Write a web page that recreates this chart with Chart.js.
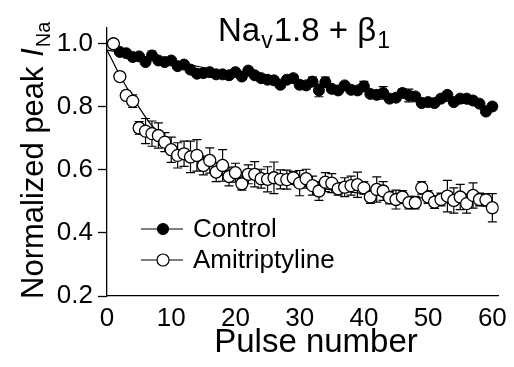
<!DOCTYPE html>
<html>
<head>
<meta charset="utf-8">
<script src="https://cdn.jsdelivr.net/npm/chart.js@4.4.0/dist/chart.umd.min.js"></script>
<style>
  html, body { margin: 0; padding: 0; background: #fff; }
  #wrap { width: 514px; height: 367px; }
</style>
</head>
<body>
<div id="wrap"><canvas id="pulseChart" width="514" height="367"></canvas></div>
<script>
// Pulse number (x) for both series
const pulses = [1, 2, 3, 4, 5, 6, 7, 8, 9, 10,
    11, 12, 13, 14, 15, 16, 17, 18, 19, 20,
    21, 22, 23, 24, 25, 26, 27, 28, 29, 30,
    31, 32, 33, 34, 35, 36, 37, 38, 39, 40,
    41, 42, 43, 44, 45, 46, 47, 48, 49, 50,
    51, 52, 53, 54, 55, 56, 57, 58, 59, 60];

// Control: normalized peak I_Na and SEM
const controlValues = [1.0, 0.974, 0.970, 0.958, 0.960, 0.942, 0.963, 0.947, 0.942, 0.947,
    0.929, 0.934, 0.918, 0.905, 0.907, 0.910, 0.903, 0.903, 0.900, 0.910,
    0.896, 0.915, 0.900, 0.891, 0.886, 0.884, 0.870, 0.886, 0.891, 0.870,
    0.868, 0.880, 0.852, 0.878, 0.857, 0.852, 0.868, 0.854, 0.852, 0.865,
    0.841, 0.838, 0.844, 0.826, 0.829, 0.844, 0.836, 0.833, 0.812, 0.815,
    0.812, 0.826, 0.838, 0.815, 0.826, 0.826, 0.820, 0.810, 0.785, 0.801];
const controlErrors = [0, 0.005, 0.005, 0.006, 0.006, 0.008, 0.014, 0.008, 0.008, 0.008,
    0.008, 0.008, 0.008, 0.008, 0.008, 0.008, 0.008, 0.008, 0.008, 0.008,
    0.01, 0.01, 0.01, 0.01, 0.01, 0.01, 0.01, 0.01, 0.01, 0.01,
    0.012, 0.014, 0.02, 0.016, 0.01, 0.01, 0.01, 0.01, 0.012, 0.016,
    0.01, 0.01, 0.02, 0.012, 0.01, 0.012, 0.02, 0.01, 0.01, 0.01,
    0.01, 0.01, 0.01, 0.01, 0.01, 0.01, 0.01, 0.01, 0.01, 0.01];

// Amitriptyline: normalized peak I_Na and SEM
const amiValues = [1.0, 0.896, 0.836, 0.818, 0.733, 0.723, 0.715, 0.709, 0.688, 0.664,
    0.646, 0.651, 0.641, 0.646, 0.614, 0.630, 0.593, 0.614, 0.579, 0.591,
    0.556, 0.586, 0.586, 0.572, 0.570, 0.575, 0.570, 0.569, 0.575, 0.558,
    0.572, 0.550, 0.533, 0.561, 0.558, 0.540, 0.545, 0.550, 0.553, 0.543,
    0.514, 0.538, 0.533, 0.512, 0.506, 0.514, 0.496, 0.496, 0.543, 0.514,
    0.498, 0.506, 0.517, 0.503, 0.514, 0.493, 0.519, 0.506, 0.505, 0.480];
const amiErrors = [0, 0.01, 0.01, 0.02, 0.02, 0.04, 0.04, 0.04, 0.03, 0.04,
    0.04, 0.04, 0.05, 0.05, 0.03, 0.04, 0.03, 0.05, 0.03, 0.03,
    0.02, 0.03, 0.04, 0.03, 0.04, 0.05, 0.03, 0.03, 0.02, 0.04,
    0.03, 0.03, 0.03, 0.03, 0.03, 0.02, 0.03, 0.03, 0.04, 0.02,
    0.02, 0.04, 0.03, 0.02, 0.03, 0.02, 0.02, 0.02, 0.02, 0.02,
    0.02, 0.02, 0.05, 0.04, 0.04, 0.03, 0.04, 0.02, 0.02, 0.045];

// Fitted decay curves
const controlFitX = [0, 2, 10, 20, 30, 40, 50, 60];
const controlFitY = [0.98, 0.972, 0.945, 0.905, 0.875, 0.85, 0.825, 0.80];
const amiFitX = [0, 2, 4, 7, 10, 15, 20, 30, 40, 50, 60];
const amiFitY = [0.98, 0.90, 0.83, 0.74, 0.68, 0.62, 0.585, 0.55, 0.525, 0.51, 0.50];

// Axis ticks
const xTicks = [0, 10, 20, 30, 40, 50, 60];
const yTicks = [0.2, 0.4, 0.6, 0.8, 1.0];

const FONT = '"Liberation Sans", Arial, sans-serif';

function toPoints(xs, ys) {
    return xs.map((x, i) => ({ x: x, y: ys[i] }));
}

// Vertical error bars drawn behind the markers
const errorBars = {
    id: 'errorBars',
    beforeDatasetsDraw(chart) {
        const ctx = chart.ctx;
        const xs = chart.scales.x, ys = chart.scales.y;
        const sets = [[controlValues, controlErrors], [amiValues, amiErrors]];
        ctx.save();
        ctx.strokeStyle = '#000';
        ctx.lineWidth = 1.2;
        sets.forEach(([vals, errs]) => {
            vals.forEach((v, i) => {
                if (!errs[i]) return;
                const px = xs.getPixelForValue(pulses[i]);
                const top = ys.getPixelForValue(v + errs[i]);
                const bot = ys.getPixelForValue(v - errs[i]);
                ctx.beginPath();
                ctx.moveTo(px, top); ctx.lineTo(px, bot);
                ctx.moveTo(px - 4.5, top); ctx.lineTo(px + 4.5, top);
                ctx.moveTo(px - 4.5, bot); ctx.lineTo(px + 4.5, bot);
                ctx.stroke();
            });
        });
        ctx.restore();
    }
};

// Title, axis titles with sub-scripts, and the legend
const decorations = {
    id: 'decorations',
    afterDraw(chart) {
        const ctx = chart.ctx;
        ctx.save();
        ctx.fillStyle = '#000';
        ctx.textBaseline = 'alphabetic';
        ctx.textAlign = 'left';

        // Title: Nav1.8 + β1
        let x = 218;
        const base = 41;
        const big = '33px ' + FONT, small = '23px ' + FONT;
        [['Na', big, 0], ['v', small, 7], ['1.8 + β', big, 0], ['1', small, 7]].forEach(([t, f, dy]) => {
            ctx.font = f;
            ctx.fillText(t, x, base + dy);
            x += ctx.measureText(t).width + 1;
        });

        // X axis title
        ctx.font = '33px ' + FONT;
        ctx.textAlign = 'center';
        ctx.fillText('Pulse number', 316, 352);

        // Y axis title (rotated)
        ctx.save();
        ctx.translate(43, 299);
        ctx.rotate(-Math.PI / 2);
        ctx.textAlign = 'left';
        let yx = 0;
        [['Normalized peak ', '31px ' + FONT, 0], ['I', 'italic 31px ' + FONT, 0], ['Na', '20px ' + FONT, 7]].forEach(([t, f, dy]) => {
            ctx.font = f;
            ctx.fillText(t, yx, dy);
            yx += ctx.measureText(t).width + 1;
        });
        ctx.restore();

        // Legend
        ctx.textAlign = 'left';
        ctx.textBaseline = 'middle';
        ctx.font = '26px ' + FONT;
        ctx.lineWidth = 1.2;
        ctx.strokeStyle = '#000';
        const rows = [['Control', 229, '#000', 5.5], ['Amitriptyline', 260, '#fff', 6]];
        rows.forEach(([label, ly, fill, r]) => {
            ctx.beginPath();
            ctx.moveTo(141, ly); ctx.lineTo(183, ly);
            ctx.stroke();
            ctx.beginPath();
            ctx.arc(163, ly, r, 0, Math.PI * 2);
            ctx.fillStyle = fill;
            ctx.fill();
            ctx.stroke();
            ctx.fillStyle = '#000';
            ctx.fillText(label, 193, ly + 1);
        });
        ctx.restore();
    }
};

const ctx = document.getElementById('pulseChart').getContext('2d');
new Chart(ctx, {
    type: 'scatter',
    data: {
        datasets: [
            {
                label: 'Amitriptyline',
                data: toPoints(pulses, amiValues),
                pointRadius: 6,
                pointBackgroundColor: '#fff',
                pointBorderColor: '#000',
                pointBorderWidth: 1.3,
                showLine: false,
                order: 0
            },
            {
                label: 'Control',
                data: toPoints(pulses, controlValues),
                pointRadius: 5.5,
                pointBackgroundColor: '#000',
                pointBorderColor: '#000',
                pointBorderWidth: 1,
                showLine: false,
                order: 1
            },
            {
                label: 'Amitriptyline fit',
                data: toPoints(amiFitX, amiFitY),
                showLine: true,
                pointRadius: 0,
                borderColor: '#000',
                borderWidth: 1.2,
                cubicInterpolationMode: 'monotone',
                order: 2
            },
            {
                label: 'Control fit',
                data: toPoints(controlFitX, controlFitY),
                showLine: true,
                pointRadius: 0,
                borderColor: '#000',
                borderWidth: 1.2,
                cubicInterpolationMode: 'monotone',
                order: 3
            }
        ]
    },
    options: {
        responsive: false,
        animation: false,
        layout: { padding: { top: 28, right: 12, left: 0, bottom: 0 } },
        scales: {
            x: {
                type: 'linear',
                min: 0,
                max: 61,
                border: { display: true, color: '#000', width: 1.3 },
                grid: { drawOnChartArea: false, drawTicks: false },
                afterBuildTicks: s => { s.ticks = xTicks.map(v => ({ value: v })); },
                afterFit: s => { s.height = 71; },
                ticks: {
                    color: '#000',
                    padding: 7,
                    maxRotation: 0,
                    font: { family: FONT, size: 26 },
                    callback: v => String(v)
                }
            },
            y: {
                min: 0.2,
                max: 1.05,
                border: { display: true, color: '#000', width: 1.3 },
                grid: { drawOnChartArea: false, drawTicks: true, tickLength: 9, color: '#000', tickWidth: 1.3 },
                afterBuildTicks: s => { s.ticks = yTicks.map(v => ({ value: v })); },
                afterFit: s => { s.width = 107; },
                ticks: {
                    color: '#000',
                    padding: 5,
                    font: { family: FONT, size: 26 },
                    callback: v => Number(v).toFixed(1)
                }
            }
        },
        plugins: {
            legend: { display: false },
            tooltip: { enabled: false }
        }
    },
    plugins: [errorBars, decorations]
});
</script>
</body>
</html>
